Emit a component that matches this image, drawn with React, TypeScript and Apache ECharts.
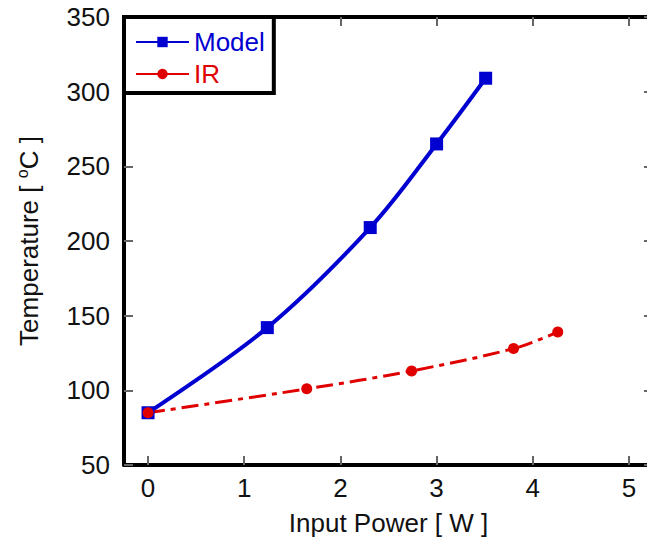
import React, { useEffect, useRef } from "react";
import * as echarts from "echarts";

const xTicks = [0, 1, 2, 3, 4, 5];
const modelX = [0, 1.24, 2.31, 3.0, 3.51];
const modelY = [85, 142, 209, 265, 309];
const irX = [0, 1.65, 2.74, 3.8, 4.26];
const irY = [85, 101, 113, 128, 139];

const FONT = "Liberation Sans, Arial, sans-serif";
const BLUE = "#0000d0";
const RED = "#e00000";
const TXT = "#111";

export default function App() {
  const ref = useRef<HTMLDivElement>(null);
  useEffect(() => {
    const chart = echarts.init(ref.current!, null, { renderer: "svg" });
    const frameLine = { show: true, lineStyle: { color: "#000", width: 4 } };
    const tick = {
      show: true,
      inside: true,
      length: 9,
      lineStyle: { color: "#666", width: 2 },
    };
    const xBase = {
      type: "value" as const,
      min: -0.25,
      max: 5.25,
      splitLine: { show: false },
      axisLine: { ...frameLine, onZero: false },
    };
    const yBase = {
      type: "value" as const,
      min: 50,
      max: 350,
      interval: 50,
      splitLine: { show: false },
      axisLine: { ...frameLine, onZero: false },
    };
    chart.setOption({
      animation: false,
      textStyle: { fontFamily: FONT },
      grid: { left: 124, top: 17, right: 7, bottom: 83 },
      legend: {
        left: 124,
        top: 17,
        orient: "vertical",
        borderColor: "#000",
        borderWidth: 4,
        padding: [12, 9, 6, 11],
        itemGap: 6,
        itemWidth: 53,
        itemHeight: 13,
        backgroundColor: "#fff",
        textStyle: { fontSize: 26, fontFamily: FONT, lineHeight: 26 },
        data: [
          { name: "Model", textStyle: { color: BLUE } },
          { name: "IR", textStyle: { color: RED }, lineStyle: { type: "solid" } },
        ],
      },
      xAxis: [
        {
          ...xBase,
          position: "bottom",
          name: "Input Power [ W ]",
          nameLocation: "middle",
          nameGap: 45,
          nameTextStyle: { fontSize: 26, color: TXT, fontFamily: FONT },
          axisTick: { ...tick, customValues: xTicks },
          axisLabel: {
            customValues: xTicks,
            fontSize: 26,
            color: TXT,
            margin: 10,
            fontFamily: FONT,
          },
        },
        {
          ...xBase,
          position: "top",
          axisTick: { ...tick, customValues: xTicks },
          axisLabel: { show: false },
        },
      ],
      yAxis: [
        {
          ...yBase,
          position: "left",
          name: "{a|Temperature [ }{s|o}{a|C ]}",
          nameLocation: "middle",
          nameGap: 80,
          nameTextStyle: {
            color: TXT,
            rich: {
              a: { fontSize: 26, color: TXT, fontFamily: FONT, lineHeight: 30 },
              s: { fontSize: 16, color: TXT, fontFamily: FONT, verticalAlign: "top", lineHeight: 30 },
            },
          },
          axisTick: tick,
          axisLabel: { fontSize: 26, color: TXT, margin: 14, fontFamily: FONT },
        },
        {
          ...yBase,
          position: "right",
          axisTick: tick,
          axisLabel: { show: false },
        },
      ],
      series: [
        {
          name: "Model",
          type: "line",
          smooth: 0.35,
          data: modelX.map((x, i) => [x, modelY[i]]),
          symbol: "rect",
          symbolSize: 13,
          lineStyle: { color: BLUE, width: 4 },
          itemStyle: { color: BLUE },
        },
        {
          name: "IR",
          type: "line",
          smooth: 0.35,
          data: irX.map((x, i) => [x, irY[i]]),
          symbol: "circle",
          symbolSize: 11,
          lineStyle: { color: RED, width: 3, type: [17, 6, 5, 6] },
          itemStyle: { color: RED },
        },
      ],
    });
    return () => chart.dispose();
  }, []);
  return (
    <div
      style={{
        position: "absolute",
        left: 0,
        top: 0,
        width: 647,
        height: 548,
        overflow: "hidden",
      }}
    >
      <div ref={ref} style={{ width: 660, height: 548 }} />
    </div>
  );
}
